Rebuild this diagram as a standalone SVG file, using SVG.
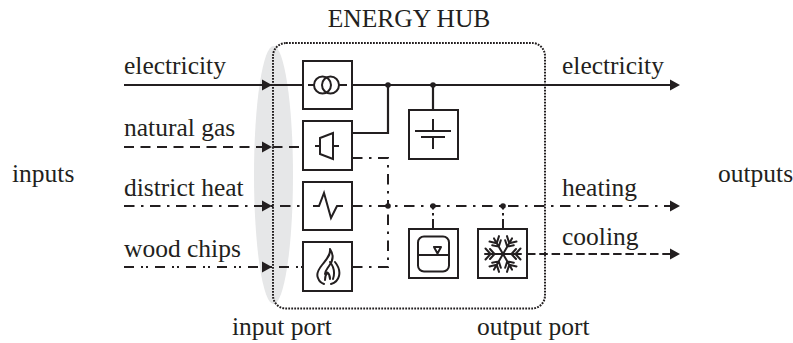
<svg xmlns="http://www.w3.org/2000/svg" width="793" height="343" viewBox="0 0 793 343">
<style>
text{font-family:"Liberation Serif","Times New Roman",serif;font-size:25.500px;fill:#231f20}
.b{fill:#fff;stroke:#231f20;stroke-width:2}
.s{fill:none;stroke:#231f20;stroke-width:2}
.i{fill:none;stroke:#231f20;stroke-width:2;stroke-linejoin:round;stroke-linecap:round}
.solid{fill:none;stroke:#231f20;stroke-width:2.200}
.dash{fill:none;stroke:#231f20;stroke-width:2;stroke-dasharray:10 6.500}
.cool{fill:none;stroke:#231f20;stroke-width:2;stroke-dasharray:8.500 3.800}
.dd{fill:none;stroke:#231f20;stroke-width:2;stroke-dasharray:10.500 6.500 2.500 6.500}
.ddd{fill:none;stroke:#231f20;stroke-width:2;stroke-dasharray:10 7 2 3 2 7}
.tap{fill:none;stroke:#231f20;stroke-width:2;stroke-dasharray:10 3.500 2.500 3.500}
.a{fill:#231f20}
</style>
<defs>
<path id="ah" class="a" d="M0 0L-10 -5.500V5.500Z"/>
<path id="arm" d="M0 0V-18M-5 -13L0 -8.500L5 -13M-5.500 -17.500L0 -12.500L5.500 -17.500" class="i"/>
</defs>
<ellipse id="input-port" cx="273.500" cy="175" rx="19.500" ry="129" fill="#e6e7e8"/>
<g id="connectors">
<path class="solid" d="M124 85H303M352 85H672M388 85V133H352M433 85V110"/>
<path class="dash" d="M124 147H303"/>
<path class="dd" d="M124 206H303M352 206H672"/>
<path class="ddd" d="M124 267H303"/>
<path class="dd" d="M352 267H388V206M352 158H388V206"/>
<path class="cool" d="M527 254H672"/>
<path class="tap" d="M433 229V206M503 229V206"/>
<circle class="a" cx="388" cy="85" r="2.800"/><circle class="a" cx="433" cy="85" r="2.800"/>
<circle class="a" cx="388" cy="206" r="2.800"/><circle class="a" cx="433" cy="206" r="2.800"/><circle class="a" cx="503" cy="206" r="2.800"/>
<use href="#ah" x="272" y="85"/><use href="#ah" x="272" y="147"/><use href="#ah" x="272" y="206"/><use href="#ah" x="272" y="267"/>
<use href="#ah" x="680" y="85"/><use href="#ah" x="680" y="206"/><use href="#ah" x="680" y="254"/>
</g>
<rect id="energy-hub" x="273" y="43" width="272" height="265.500" rx="13" fill="none" stroke="#231f20" stroke-width="2" stroke-dasharray="1.800 1.200"/>
<g id="transformer"><rect class="b" x="303" y="61" width="49" height="48"/><circle class="s" cx="322.500" cy="85" r="8.500"/><circle class="s" cx="330.500" cy="85" r="8.500"/><path class="s" d="M308 85H314M339 85H347"/></g>
<g id="turbine"><rect class="b" x="303" y="121" width="49" height="49"/><path class="s" d="M333 133V159L320 154V138ZM315 146H320M333 146H339"/></g>
<g id="heat-exchanger"><rect class="b" x="303" y="182" width="49" height="48"/><path class="s" d="M313 206H319L324 193L331 218L337 206H343"/></g>
<g id="boiler"><rect class="b" x="303" y="242" width="49" height="49"/><path class="i" d="M330 249C331 255 326 260 322 265C318 270 316 274 318 278C319 281 321 283 324 284M330 249C334 255 333 261 329 266C327 269 325 271 325 274M335 262C339 267 340 272 339 276C338 280 335 283 331 284M330 262C334 267 335 273 333 279M325 280C325 276 326 274 327.500 272.500C329.500 274 330 276 330 279"/></g>
<g id="storage"><rect class="b" x="409" y="110" width="49" height="49"/><path class="s" d="M415 131H451M421 137H445M433 119V131M433 137V149"/></g>
<g id="thermal-storage"><rect class="b" x="409" y="229" width="49" height="49"/><rect class="s" x="418" y="236.500" width="31" height="35" rx="6"/><path class="s" d="M418 255H449"/><path class="i" d="M434 247H441L437.500 253.500Z"/></g>
<g id="chiller"><rect class="b" x="478" y="229" width="49" height="49"/>
<g transform="translate(503 254)"><use href="#arm" transform="rotate(90)"/><use href="#arm" transform="rotate(30)"/><use href="#arm" transform="rotate(150)"/><use href="#arm" transform="rotate(210)"/><use href="#arm" transform="rotate(270)"/><use href="#arm" transform="rotate(330)"/></g></g>
<g id="labels">
<text x="409" y="27" text-anchor="middle">ENERGY HUB</text>
<text x="124" y="74">electricity</text>
<text x="124" y="136">natural gas</text>
<text x="124" y="196">district heat</text>
<text x="124" y="257">wood chips</text>
<text x="12" y="181.500">inputs</text>
<text x="562" y="74">electricity</text>
<text x="562" y="195.500">heating</text>
<text x="562" y="245">cooling</text>
<text x="718" y="181.500">outputs</text>
<text x="232" y="335">input port</text>
<text x="477" y="335">output port</text>
</g>
</svg>
